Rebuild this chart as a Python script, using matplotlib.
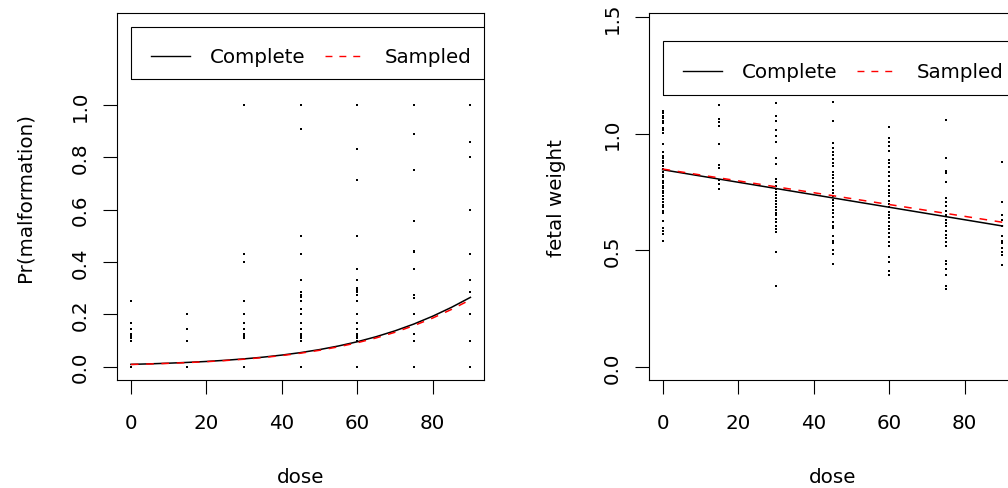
import matplotlib
matplotlib.use("Agg")
import matplotlib.pyplot as plt
from matplotlib.patches import Rectangle

plt.rcParams['font.family'] = ['DejaVu Sans']

# ---------------- data ----------------
doses = [0, 15, 30, 45, 60, 75, 90]

# Pr(malformation) per litter, by dose
malf_0 = [0.25, 0.167, 0.143, 0.125, 0.118, 0.111, 0.1, 0.0]
malf_15 = [0.2, 0.143, 0.1, 0.0]
malf_30 = [1.0, 0.429, 0.4, 0.25, 0.2, 0.167, 0.143, 0.125, 0.118, 0.111, 0.0]
malf_45 = [1.0, 0.909, 0.5, 0.429, 0.333, 0.286, 0.273, 0.267, 0.25, 0.222,
           0.2, 0.167, 0.143, 0.125, 0.118, 0.111, 0.1, 0.0]
malf_60 = [1.0, 0.833, 0.714, 0.5, 0.375, 0.333, 0.3, 0.292, 0.286, 0.273,
           0.25, 0.2, 0.167, 0.143, 0.125, 0.118, 0.111, 0.1, 0.0]
malf_75 = [1.0, 0.889, 0.75, 0.556, 0.444, 0.438, 0.375, 0.273, 0.263, 0.2,
           0.125, 0.1, 0.0]
malf_90 = [1.0, 0.857, 0.8, 0.6, 0.429, 0.333, 0.286, 0.2, 0.1, 0.0]

# fetal weight, by dose
fw_0 = [1.098, 1.088, 1.077, 1.065, 1.055, 1.044, 1.023, 1.013, 1.001, 0.955,
        0.920, 0.905, 0.894, 0.884, 0.874, 0.863, 0.848, 0.837, 0.823, 0.813,
        0.798, 0.787, 0.777, 0.766, 0.755, 0.744, 0.734, 0.720, 0.706, 0.694,
        0.684, 0.670, 0.660, 0.627, 0.594, 0.584, 0.570, 0.541]
fw_15 = [1.123, 1.063, 1.048, 1.031, 0.955, 0.865, 0.851, 0.802, 0.784, 0.763]
fw_30 = [1.131, 1.074, 1.055, 1.017, 0.991, 0.963, 0.894, 0.868, 0.805, 0.794,
         0.777, 0.763, 0.748, 0.737, 0.723, 0.711, 0.698, 0.684, 0.674, 0.660,
         0.649, 0.634, 0.623, 0.606, 0.591, 0.577, 0.494, 0.346]
fw_45 = [1.137, 1.055, 0.960, 0.937, 0.923, 0.908, 0.891, 0.874, 0.860, 0.834,
         0.823, 0.808, 0.794, 0.777, 0.760, 0.746, 0.731, 0.717, 0.703, 0.688,
         0.674, 0.660, 0.641, 0.623, 0.606, 0.594, 0.563, 0.541, 0.531, 0.503,
         0.484, 0.441]
fw_60 = [1.027, 0.980, 0.963, 0.945, 0.927, 0.888, 0.874, 0.856, 0.837, 0.817,
         0.798, 0.774, 0.760, 0.746, 0.731, 0.713, 0.698, 0.684, 0.666, 0.651,
         0.637, 0.623, 0.606, 0.591, 0.574, 0.556, 0.537, 0.517, 0.470, 0.449,
         0.413, 0.394]
fw_75 = [1.060, 0.895, 0.841, 0.831, 0.794, 0.723, 0.706, 0.688, 0.670, 0.651,
         0.631, 0.617, 0.603, 0.584, 0.566, 0.551, 0.534, 0.517, 0.456, 0.441,
         0.420, 0.394, 0.348, 0.334]
fw_90 = [0.877, 0.706, 0.649, 0.631, 0.603, 0.563, 0.541, 0.531, 0.509, 0.491,
         0.480, 0.437]

# fitted curves
curve_dose = [0, 5, 10, 15, 20, 25, 30, 35, 40, 45, 50, 55, 60, 65, 70, 75, 80, 85, 90]
complete_pm = [0.0089, 0.0109, 0.0134, 0.0164, 0.0200, 0.0245, 0.0299, 0.0364,
               0.0444, 0.0539, 0.0654, 0.0791, 0.0953, 0.1146, 0.137, 0.163,
               0.193, 0.227, 0.265]
sampled_pm = [0.0085, 0.0104, 0.0128, 0.0157, 0.0192, 0.0235, 0.0287, 0.035,
              0.0426, 0.0517, 0.0627, 0.076, 0.0915, 0.110, 0.1315, 0.157,
              0.186, 0.219, 0.256]

line_dose = [0, 90]
complete_fw = [0.845, 0.604]
sampled_fw = [0.848, 0.620]

legend_labels = ["Complete", "Sampled"]
x_ticks = [0, 20, 40, 60, 80]
y_ticks_pm = [0.0, 0.2, 0.4, 0.6, 0.8, 1.0]
y_ticks_fw = [0.0, 0.5, 1.0, 1.5]

malf = [malf_0, malf_15, malf_30, malf_45, malf_60, malf_75, malf_90]
fw = [fw_0, fw_15, fw_30, fw_45, fw_60, fw_75, fw_90]

# ---------------- figure ----------------
FS = 14.3
DASH = (0, (5.0, 5.0))
W, H = 1008, 489
fig = plt.figure(figsize=(W / 100, H / 100), dpi=100)

ax1 = fig.add_axes([117.3 / W, (H - 381.3) / H, (484 - 117.3) / W, (381.3 - 14) / H])
ax2 = fig.add_axes([649 / W, (H - 381) / H, (1016 - 649) / W, (381 - 14.3) / H])


def style(ax, yticks, ylabel):
    for s in ax.spines.values():
        s.set_linewidth(0.8)
    ax.set_xticks(x_ticks)
    ax.set_yticks(yticks)
    ax.set_xticklabels([str(t) for t in x_ticks])
    ax.set_yticklabels(["%.1f" % t for t in yticks])
    ax.tick_params(axis='both', direction='out', length=10, width=0.8,
                   labelsize=FS, colors='black')
    ax.tick_params(axis='x', pad=13.5)
    ax.tick_params(axis='y', pad=9.5, labelrotation=90)
    for lbl in ax.get_yticklabels():
        lbl.set_va('center')
    ax.set_xlabel("dose", fontsize=FS)
    ax.set_ylabel(ylabel, fontsize=FS)
    ax.xaxis.set_label_coords(0.5, -0.2777)
    ax.xaxis.label.set_va('baseline')
    ax.yaxis.set_label_coords(-0.2515, 0.5)
    ax.yaxis.label.set_va('center')


def scatter(ax, groups):
    for d, vals in zip(doses, groups):
        ax.plot([d] * len(vals), vals, linestyle='none', marker='s',
                markersize=1.45, markeredgewidth=0, color='black')


def legend(ax, y_top, y_bot, y_line, y_text):
    ax.add_patch(Rectangle((0, y_bot), 300, y_top - y_bot, fill=False,
                           edgecolor='black', linewidth=0.8, clip_on=True))
    ax.plot([5.3, 15.7], [y_line, y_line], color='black', linewidth=1.0)
    ax.plot([51.5, 61.1], [y_line, y_line], color='red', linewidth=1.0,
            linestyle=DASH)
    ax.text(21.0, y_text, legend_labels[0], fontsize=FS, va='baseline', ha='left')
    ax.text(67.3, y_text, legend_labels[1], fontsize=FS, va='baseline', ha='left')


# left panel
scatter(ax1, malf)
ax1.plot(curve_dose, complete_pm, color='black', linewidth=1.1)
ax1.plot(curve_dose, sampled_pm, color='red', linewidth=1.1, linestyle=DASH)
legend(ax1, 1.3, 1.1, 1.189, 1.166)
ax1.set_xlim(-3.6, 93.6)
ax1.set_ylim(-0.052, 1.352)
style(ax1, y_ticks_pm, "Pr(malformation)")

# right panel
scatter(ax2, fw)
ax2.plot(line_dose, complete_fw, color='black', linewidth=1.1)
ax2.plot(line_dose, sampled_fw, color='red', linewidth=1.1, linestyle=DASH)
legend(ax2, 1.395, 1.167, 1.2695, 1.2438)
ax2.set_xlim(-3.6, 93.6)
ax2.set_ylim(-0.0557, 1.515)
style(ax2, y_ticks_fw, "fetal weight")

fig.savefig("out.png", dpi=100)
